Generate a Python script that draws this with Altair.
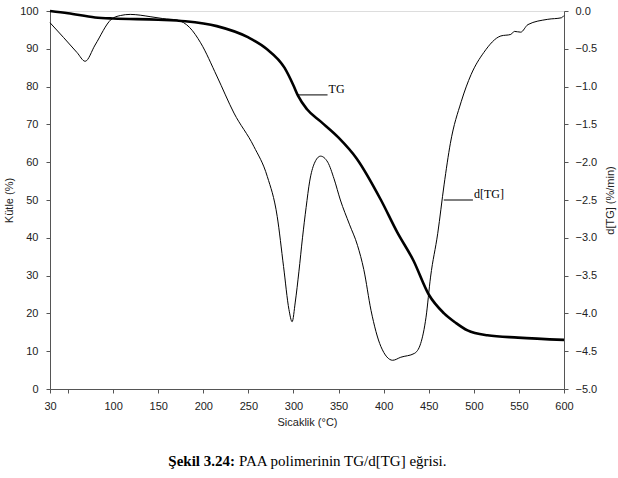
import altair as alt
import pandas as pd

# TG curve (mass %, left axis)
tg_temp = [30, 50, 80, 100, 150, 180, 215, 250, 270, 290, 300, 305, 315, 330, 350, 370, 397, 415, 433, 450, 467, 480, 493, 515, 549, 600]
tg_mass = [100, 99.4, 98.3, 98.0, 97.7, 97.3, 96.0, 93.0, 90.0, 85.0, 80.3, 77.6, 74.0, 70.8, 66.5, 61.0, 50.0, 41.5, 34.0, 25.0, 20.0, 17.5, 15.5, 14.2, 13.6, 13.0]

# d[TG] curve (%/min, right axis)
dtg_temp = [30, 45, 60, 69, 80, 98, 108, 119, 130, 141, 155, 171, 185, 197, 215, 234, 256, 271, 282, 289, 295, 298.5,
            302, 306, 310, 314, 318, 323, 330, 338, 345, 352, 362, 371, 378, 386, 397, 410, 419, 434, 441, 447, 452, 460, 467,
            474, 486, 497, 511, 530, 541, 545, 552, 560, 582, 597, 600]
dtg_val = [-0.155, -0.35, -0.55, -0.665, -0.45, -0.11, -0.06, -0.045, -0.055, -0.075, -0.10, -0.12, -0.22, -0.42, -0.86,
           -1.35, -1.79, -2.19, -2.72, -3.38, -3.95, -4.11, -3.85, -3.45, -3.0, -2.6, -2.25, -2.02, -1.92, -2.0, -2.22, -2.5,
           -2.82, -3.10, -3.42, -3.96, -4.44, -4.62, -4.58, -4.53, -4.4, -4.05, -3.52, -2.94, -2.3, -1.75, -1.2, -0.84,
           -0.55, -0.33, -0.31, -0.27, -0.28, -0.18, -0.11, -0.09, -0.06]

# Annotation labels (data coordinates on the left axis)
ann_text = ["TG", "d[TG]"]
ann_x1 = [304.4, 466.7]
ann_x2 = [337.8, 499.0]
ann_y = [77.8, 50.0]

x_ticks = [30, 50, 100, 150, 200, 250, 300, 350, 400, 450, 500, 550, 600]
left_ticks = [0, 10, 20, 30, 40, 50, 60, 70, 80, 90, 100]
right_ticks = [0.0, -0.5, -1.0, -1.5, -2.0, -2.5, -3.0, -3.5, -4.0, -4.5, -5.0]

tg_df = pd.DataFrame({"temp": tg_temp, "mass": tg_mass})
dtg_df = pd.DataFrame({"temp": dtg_temp, "dtg": dtg_val})
ann_df = pd.DataFrame({"label": ann_text, "x1": ann_x1, "x2": ann_x2, "mass": ann_y})

AX = "#555555"
FONT = "Liberation Sans"

x_scale = alt.Scale(domain=[30, 600], nice=False, zero=False)
x_axis = alt.Axis(values=x_ticks, title="Sicaklik (°C)", labelExpr="datum.value == 50 ? '' : datum.label",
                  grid=False, domainColor=AX, tickColor=AX, tickSize=4, labelColor="#222", titleColor="#222",
                  labelFont=FONT, titleFont=FONT, labelFontSize=11, titleFontSize=11, titleFontWeight="normal",
                  labelPadding=7, titlePadding=5, format="d", labelFlush=False)
left_scale = alt.Scale(domain=[0, 100], nice=False)
left_axis = alt.Axis(values=left_ticks, title="Kütle (%)", grid=False, domainColor=AX, tickColor=AX, tickSize=4,
                     labelColor="#222", titleColor="#222", labelFont=FONT, titleFont=FONT, labelFontSize=11,
                     titleFontSize=11, titleFontWeight="normal", labelPadding=8, titlePadding=5, labelFlush=False)
right_scale = alt.Scale(domain=[-5, 0], nice=False, zero=False)
right_axis = alt.Axis(values=right_ticks, title="d[TG] (%/min)", orient="right", format=".1f", grid=False,
                      domainColor=AX, tickColor=AX, tickSize=4, labelColor="#222", titleColor="#222",
                      labelFont=FONT, titleFont=FONT, labelFontSize=11, titleFontSize=11,
                      titleFontWeight="normal", labelPadding=7, titlePadding=19, titleAngle=270,
                      labelFlush=False)

tg_line = alt.Chart(tg_df).mark_line(color="black", strokeWidth=2.6, interpolate="monotone").encode(
    x=alt.X("temp:Q", scale=x_scale, axis=x_axis),
    y=alt.Y("mass:Q", scale=left_scale, axis=left_axis),
)

ann_rule = alt.Chart(ann_df).mark_rule(color="black", strokeWidth=1).encode(
    x=alt.X("x1:Q", scale=x_scale, axis=x_axis),
    x2="x2:Q",
    y=alt.Y("mass:Q", scale=left_scale, axis=left_axis),
)
ann_label = alt.Chart(ann_df).mark_text(align="left", baseline="alphabetic", dx=1, dy=-2,
                                         font="Liberation Serif", fontSize=12, color="black").encode(
    x=alt.X("x2:Q", scale=x_scale, axis=x_axis),
    y=alt.Y("mass:Q", scale=left_scale, axis=left_axis),
    text="label:N",
)

left_layer = alt.layer(tg_line, ann_rule, ann_label)

dtg_line = alt.Chart(dtg_df).mark_line(color="black", strokeWidth=1, interpolate="monotone").encode(
    x=alt.X("temp:Q", scale=x_scale, axis=x_axis),
    y=alt.Y("dtg:Q", scale=right_scale, axis=right_axis),
)

cap_df = pd.DataFrame({"bold": ["Şekil 3.24:"], "rest": ["PAA polimerinin TG/d[TG] eğrisi."]})
cap_bold = alt.Chart(cap_df).mark_text(align="right", baseline="alphabetic", font="Liberation Serif",
                                       fontSize=15, fontWeight="bold", color="black").encode(
    x=alt.value(185), y=alt.value(455), text="bold:N")
cap_rest = alt.Chart(cap_df).mark_text(align="left", baseline="alphabetic", font="Liberation Serif",
                                       fontSize=15, color="black", dx=4).encode(
    x=alt.value(185), y=alt.value(455), text="rest:N")

chart = alt.layer(left_layer, dtg_line, cap_bold, cap_rest).resolve_scale(y="independent").properties(
    width=514, height=378,
    autosize=alt.AutoSizeParams(type="none"),
    padding={"left": 50, "top": 11, "right": 54, "bottom": 89},
).configure_view(stroke=None).configure(background="white")

chart.save("out.html", embed_options={"renderer": "svg", "actions": False})
